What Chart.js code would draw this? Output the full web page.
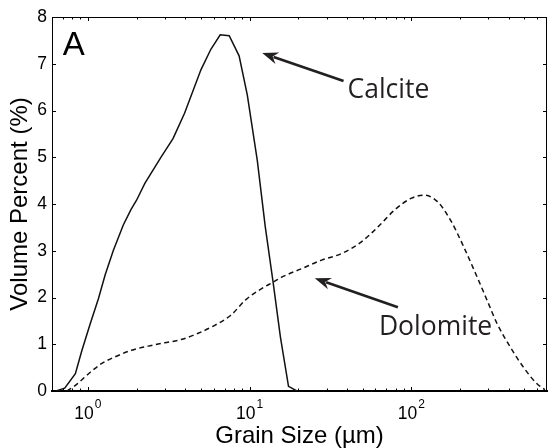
<!DOCTYPE html>
<html>
<head>
<meta charset="utf-8">
<script src="https://cdn.jsdelivr.net/npm/chart.js@4/dist/chart.umd.min.js"></script>
<style>
  html, body { margin: 0; padding: 0; background: #fff; }
  #wrap { width: 549px; height: 448px; }
</style>
</head>
<body>
<div id="wrap"><canvas id="chart" width="549" height="448"></canvas></div>
<script>
// Grain size distribution (volume %) of the calcite and dolomite fractions
const calciteSize = [0.636, 0.719, 0.837, 0.919, 1.034, 1.163, 1.278, 1.438, 1.656, 1.846, 2.0, 2.25, 2.84, 3.36, 3.96, 5.0, 5.76, 6.58, 7.48, 8.61, 9.68, 11.15, 12.5, 13.97, 15.5, 17.4, 19.6];
const calcitePct  = [0, 0.06, 0.37, 0.87, 1.44, 1.98, 2.48, 3.01, 3.55, 3.88, 4.08, 4.44, 5.01, 5.40, 5.94, 6.87, 7.31, 7.62, 7.60, 7.17, 6.33, 4.94, 3.51, 2.33, 1.16, 0.10, 0];

const dolomiteSize = [0.743, 0.837, 1.01, 1.22, 1.47, 1.86, 2.36, 2.98, 3.77, 4.77, 6.05, 7.65, 9.45, 12.0, 14.0, 15.9, 21.1, 27.9, 37.0, 49.1, 62.2, 78.7, 99.6, 120, 145, 175, 211, 255, 294, 339, 409, 493, 596, 670];
const dolomitePct  = [0, 0.12, 0.37, 0.59, 0.73, 0.87, 0.96, 1.03, 1.10, 1.23, 1.40, 1.62, 1.95, 2.20, 2.33, 2.44, 2.62, 2.80, 2.94, 3.19, 3.51, 3.87, 4.12, 4.19, 4.05, 3.65, 3.08, 2.44, 1.94, 1.44, 0.94, 0.51, 0.16, 0.03];

// Axis ticks
const xMajorTicks = [1, 10, 100];
const xMajorExponents = ['0', '1', '2'];
const xMinorTicks = [0.7, 0.8, 0.9, 2, 3, 4, 5, 6, 7, 8, 9, 20, 30, 40, 50, 60, 70, 80, 90, 200, 300, 400, 500, 600];
const yTicks = [0, 1, 2, 3, 4, 5, 6, 7, 8];

// Callouts: [text, label x, label baseline y, arrow tail x, tail y, arrow tip x, tip y]
const calloutCalcite  = ['Calcite', 40.3, 6.274, 38.1, 6.63, 11.97, 7.23];
const calloutDolomite = ['Dolomite', 63.0, 1.193, 82.6, 1.79, 25.3, 2.41];
const panelLetter = ['A', 0.70, 7.19];

const toPoints = (xs, ys) => xs.map((x, i) => ({ x, y: ys[i] }));

const INK = '#231f20';
const LABEL_FONT = '"Liberation Sans", Arial, Helvetica, sans-serif';

function drawArrow(ctx, x0, y0, x1, y1) {
  const ang = Math.atan2(y1 - y0, x1 - x0);
  const headLen = 16, headHalf = 6;
  const bx = x1 - headLen * Math.cos(ang), by = y1 - headLen * Math.sin(ang);
  ctx.save();
  ctx.strokeStyle = INK;
  ctx.fillStyle = INK;
  ctx.lineWidth = 2.6;
  ctx.beginPath();
  ctx.moveTo(x0, y0);
  ctx.lineTo(x1 - (headLen - 4) * Math.cos(ang), y1 - (headLen - 4) * Math.sin(ang));
  ctx.stroke();
  ctx.beginPath();
  ctx.moveTo(x1, y1);
  ctx.lineTo(bx + headHalf * Math.sin(ang), by - headHalf * Math.cos(ang));
  ctx.lineTo(x1 - (headLen - 5) * Math.cos(ang), y1 - (headLen - 5) * Math.sin(ang));
  ctx.lineTo(bx - headHalf * Math.sin(ang), by + headHalf * Math.cos(ang));
  ctx.closePath();
  ctx.fill();
  ctx.restore();
}

const framePlugin = {
  id: 'frame',
  afterDraw(chart) {
    const { ctx, chartArea: a, scales } = chart;
    const xs = scales.x, ys = scales.y;
    ctx.save();
    ctx.strokeStyle = '#000';
    ctx.lineWidth = 1;
    // top and right frame
    ctx.beginPath();
    ctx.moveTo(a.left, a.top + 0.5);
    ctx.lineTo(a.right, a.top + 0.5);
    ctx.moveTo(a.right - 0.5, a.top);
    ctx.lineTo(a.right - 0.5, a.bottom);
    ctx.stroke();

    // inward tick marks
    ctx.beginPath();
    yTicks.forEach(v => {
      const py = Math.round(ys.getPixelForValue(v)) + 0.5;
      ctx.moveTo(a.left, py); ctx.lineTo(a.left + 4, py);
      ctx.moveTo(a.right, py); ctx.lineTo(a.right - 4, py);
    });
    const xTick = (v, len) => {
      const px = Math.round(xs.getPixelForValue(v)) + 0.5;
      ctx.moveTo(px, a.bottom); ctx.lineTo(px, a.bottom - len);
      ctx.moveTo(px, a.top); ctx.lineTo(px, a.top + len);
    };
    xMajorTicks.forEach(v => xTick(v, 4));
    xMinorTicks.forEach(v => xTick(v, 2.5));
    ctx.stroke();

    // decade labels 10^n
    ctx.fillStyle = '#000';
    ctx.textBaseline = 'alphabetic';
    ctx.textAlign = 'left';
    xMajorTicks.forEach((v, i) => {
      const px = xs.getPixelForValue(v);
      ctx.font = '17.5px ' + LABEL_FONT;
      const wBase = ctx.measureText('10').width;
      ctx.font = '12px ' + LABEL_FONT;
      const wExp = ctx.measureText(xMajorExponents[i]).width;
      const x0 = px - (wBase + wExp + 1) / 2;
      ctx.font = '17.5px ' + LABEL_FONT;
      ctx.fillText('10', x0, a.bottom + 28);
      ctx.font = '12px ' + LABEL_FONT;
      ctx.fillText(xMajorExponents[i], x0 + wBase + 1, a.bottom + 17);
    });

    // panel letter
    ctx.font = '33px ' + LABEL_FONT;
    ctx.fillStyle = '#000';
    ctx.fillText(panelLetter[0], xs.getPixelForValue(panelLetter[1]), ys.getPixelForValue(panelLetter[2]));

    // callouts
    [calloutCalcite, calloutDolomite].forEach(c => {
      ctx.font = '26.5px "Open Sans", "Noto Sans", sans-serif';
      ctx.fillStyle = INK;
      ctx.fillText(c[0], xs.getPixelForValue(c[1]), ys.getPixelForValue(c[2]));
      drawArrow(ctx, xs.getPixelForValue(c[3]), ys.getPixelForValue(c[4]),
                     xs.getPixelForValue(c[5]), ys.getPixelForValue(c[6]));
    });
    ctx.restore();
  }
};

new Chart(document.getElementById('chart'), {
  type: 'line',
  data: {
    datasets: [
      {
        label: 'Calcite',
        data: toPoints(calciteSize, calcitePct),
        borderColor: '#111',
        borderWidth: 1.5,
        pointRadius: 0,
        tension: 0,
        fill: false
      },
      {
        label: 'Dolomite',
        data: toPoints(dolomiteSize, dolomitePct),
        borderColor: '#111',
        borderWidth: 1.5,
        borderDash: [5, 3.5],
        pointRadius: 0,
        cubicInterpolationMode: 'monotone',
        fill: false
      }
    ]
  },
  options: {
    responsive: false,
    animation: false,
    devicePixelRatio: 1,
    layout: { padding: { top: 17, right: 2, left: 0, bottom: 0 } },
    plugins: { legend: { display: false }, tooltip: { enabled: false } },
    scales: {
      x: {
        type: 'logarithmic',
        min: 0.634,
        max: 690,
        grid: { display: false, drawTicks: false },
        border: { display: true, color: '#000', width: 2 },
        ticks: { display: false },
        afterBuildTicks: s => { s.ticks = xMajorTicks.map(v => ({ value: v })); },
        afterFit: s => { s.height = 57; },
        title: {
          display: true,
          text: 'Grain Size (µm)',
          color: '#000',
          font: { family: LABEL_FONT, size: 24, lineHeight: 1 },
          padding: { top: 0, bottom: 0 }
        }
      },
      y: {
        type: 'linear',
        min: 0,
        max: 8,
        grid: { display: false, drawTicks: false },
        border: { display: true, color: '#000', width: 1 },
        ticks: {
          stepSize: 1,
          color: '#000',
          padding: 5,
          font: { family: LABEL_FONT, size: 17.5 }
        },
        afterFit: s => { s.width = 52; },
        title: {
          display: true,
          text: 'Volume Percent (%)',
          color: '#000',
          font: { family: LABEL_FONT, size: 24, lineHeight: 1.2 },
          padding: { top: 6, bottom: 0 }
        }
      }
    }
  },
  plugins: [framePlugin]
});
</script>
</body>
</html>
